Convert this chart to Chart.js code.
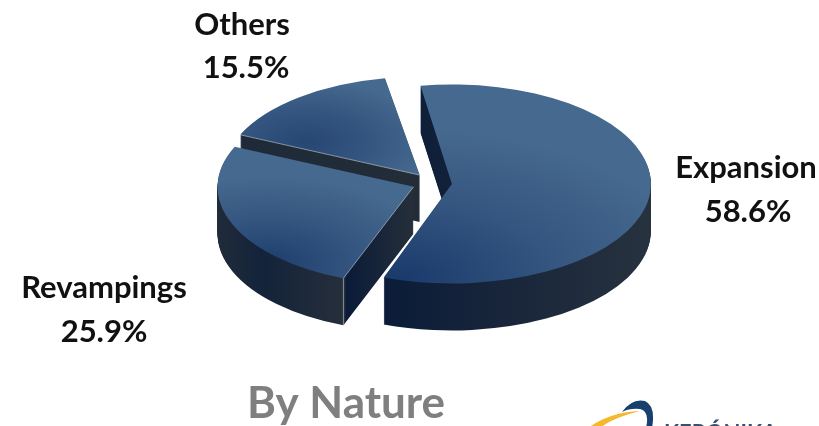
<!DOCTYPE html>
<html><head><meta charset="utf-8">
<style>html,body{margin:0;padding:0;background:#fff}#w{width:819px;height:426px;position:relative;overflow:hidden}</style>
<script src="https://cdn.jsdelivr.net/npm/chart.js@4"></script>
</head><body><div id="w"><canvas id="c" width="819" height="426"></canvas></div>
<script>
const categories = ["Expansion", "Revampings", "Others"];
const shares = [58.6, 25.9, 15.5];
const chartTitle = "By Nature";
const logoText = "KERÓNIKA";

const FONT = "Lato, 'Open Sans', sans-serif";
const TILT = 0.5, CY = 183, DEPTH = 47;
// per slice look: dark spot of top face (screen px), spot reach, radius trim, side wall colours left→right
const looks = [
  {spot:[400,278], reach:300, inner:'#1a3a6c', trim:0, wall:[[383,'#0a1c38'],[500,'#18253a'],[650,'#27323f']]},
  {spot:[270,262], reach:170, inner:'#1e3e6e', trim:3, wall:[[218,'#202b39'],[262,'#13233a'],[345,'#262f3b'],[346,'#0a1b38'],[414,'#262f3a']]},
  {spot:[305,142], reach:125, inner:'#274773', trim:2, wall:[[240,'#1f2a39'],[420,'#232d38']]}
];
const labelPos = [
  [746,168,748,212],
  [104,288,104,332],
  [242,25,246,68]
];

const pseudo3d = {
  id:'pseudo3d',
  beforeDatasetsDraw(chart){
    const ctx = chart.ctx, arcs = chart.getDatasetMeta(0).data;
    for (let i = arcs.length-1; i >= 0; i--){
      const a = arcs[i], base = a.options, look = looks[i];
      const mid = (a.startAngle+a.endAngle)/2, off = (base.offset||0)/4;
      const ox = Math.cos(mid)*off, oy = Math.sin(mid)*off;
      // Chart.js widens offset arcs; hold each slice at its own radius
      const R = a.outerRadius;
      const fix = 1 - Math.sin(Math.min(Math.PI, a.circumference||0));
      const rimR = R - look.trim;
      a.outerRadius = rimR - off*fix;
      const toY = sy => a.y + (sy-CY)/TILT - oy;
      const x0 = look.wall[0][0], x1 = look.wall[look.wall.length-1][0];
      const wall = ctx.createLinearGradient(x0-ox,0,x1-ox,0);
      look.wall.forEach(s=>wall.addColorStop((s[0]-x0)/(x1-x0), s[1]));
      const top = ctx.createRadialGradient(look.spot[0]-ox,toY(look.spot[1]),0,look.spot[0]-ox,toY(look.spot[1]),look.reach);
      top.addColorStop(0,look.inner); top.addColorStop(.5,'#34557f'); top.addColorStop(1,'#46698f');
      a.options = {...base, backgroundColor:wall, borderWidth:0};
      for (let d = DEPTH; d >= 1; d--){
        ctx.save();
        ctx.translate(0,CY+d); ctx.scale(1,TILT); ctx.translate(0,-a.y);
        a.draw(ctx);
        ctx.restore();
      }
      a.options = {...base, backgroundColor:top, borderWidth:0};
      ctx.save();
      ctx.translate(0,CY); ctx.scale(1,TILT); ctx.translate(0,-a.y);
      a.draw(ctx);
      ctx.restore();
      a.options = base;
      // thin light edges
      ctx.save();
      ctx.strokeStyle='rgba(200,210,220,.6)'; ctx.lineWidth=1;
      if (i===1){
        const ex=a.x+ox+Math.cos(a.startAngle)*rimR, ey=CY+(oy+Math.sin(a.startAngle)*rimR)*TILT;
        ctx.beginPath(); ctx.moveTo(a.x+ox,CY+oy*TILT); ctx.lineTo(ex,ey); ctx.lineTo(ex,ey+DEPTH); ctx.stroke();
      }
      if (i===2){
        const e2=a.startAngle;
        ctx.beginPath(); ctx.moveTo(a.x+ox,CY+oy*TILT);
        ctx.lineTo(a.x+ox+Math.cos(e2)*rimR,CY+(oy+Math.sin(e2)*rimR)*TILT); ctx.stroke();
      }
      ctx.restore();
      a.outerRadius = R;
    }
    return false;
  },
  beforeDatasetDraw(){ return false; },
  afterDraw(chart){
    const ctx = chart.ctx;
    ctx.save();
    ctx.textAlign='center'; ctx.textBaseline='middle';
    ctx.fillStyle='#111'; ctx.font='bold 31px '+FONT;
    categories.forEach((n,i)=>{
      ctx.fillText(n,labelPos[i][0],labelPos[i][1]);
      ctx.fillText(shares[i].toFixed(1)+'%',labelPos[i][2],labelPos[i][3]);
    });
    ctx.fillStyle='#7f7f7f'; ctx.font='bold 44px '+FONT;
    ctx.fillText(chartTitle,346,404);
    // cropped logo at lower right
    ctx.fillStyle='#f5b82e';
    ctx.beginPath(); ctx.moveTo(588,428); ctx.quadraticCurveTo(610,412,640,411); ctx.quadraticCurveTo(612,418,600,428); ctx.closePath(); ctx.fill();
    ctx.fillStyle='#17406f';
    ctx.beginPath(); ctx.moveTo(622,412); ctx.quadraticCurveTo(632,398,645,401); ctx.quadraticCurveTo(656,406,652,428); ctx.lineTo(646,428); ctx.quadraticCurveTo(650,411,640,409); ctx.quadraticCurveTo(630,408,622,412); ctx.closePath(); ctx.fill();
    ctx.fillStyle='#3a4f6e'; ctx.font='bold 22px '+FONT; ctx.textAlign='left'; ctx.textBaseline='alphabetic';
    ctx.fillText(logoText,664,441);
    ctx.restore();
  }
};

new Chart(document.getElementById('c'),{
  type:'pie',
  data:{labels:categories,datasets:[{data:shares,backgroundColor:'#46698f',borderWidth:0,offset:80}]},
  options:{
    responsive:false,animation:false,radius:199,rotation:-10,
    layout:{padding:{left:45}},
    plugins:{legend:{display:false},tooltip:{enabled:false},title:{display:false}},
    events:[]
  },
  plugins:[pseudo3d]
});
</script></body></html>
